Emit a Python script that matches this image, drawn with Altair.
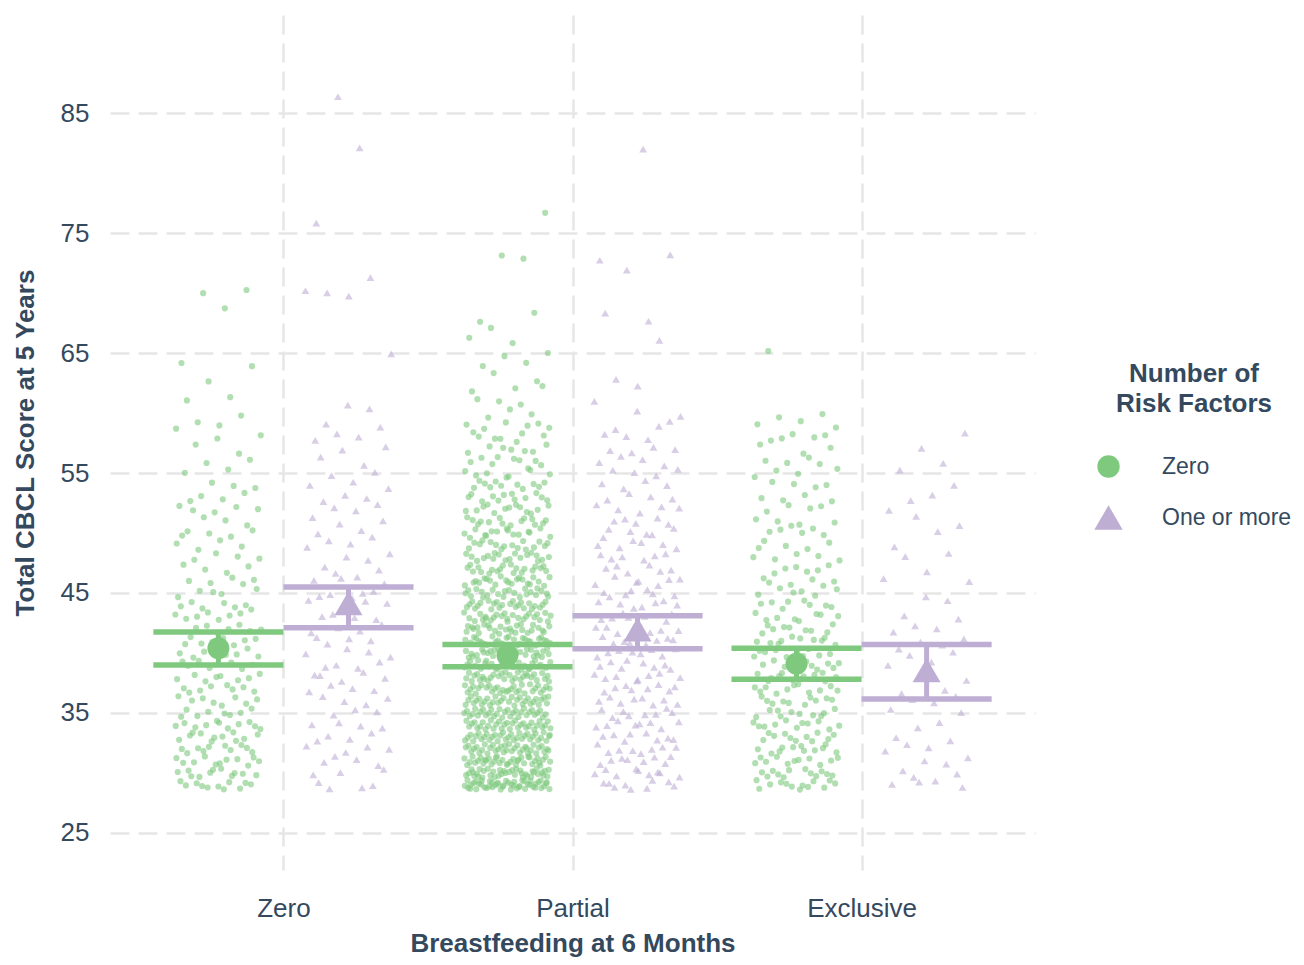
import json
import altair as alt
import pandas as pd

# ---------------- data ----------------
categories = ["Zero", "Partial", "Exclusive"]          # Breastfeeding at 6 Months
groups = ["Zero", "One or more"]                      # Number of Risk Factors
first_score = 29                                      # lowest observed total CBCL T-score

# counts of children at each integer score (starting at 29), per cell
counts_zero_zero = [11, 11, 11, 10, 11, 11, 8, 8, 8, 8, 7, 8, 8, 7, 7, 7,
                    5, 5, 4, 4, 4, 5, 3, 5, 4, 3, 2, 2, 2, 2, 3, 1, 2,
                    0, 1, 2, 0, 0, 0, 0, 1, 2]
counts_zero_one = [4, 3, 4, 4, 4, 4, 3, 4, 4, 5, 4, 4, 4, 4, 4, 4,
                   5, 4, 3, 3, 3, 3, 3, 3, 3, 3, 2, 2, 2, 3, 2, 1, 1,
                   0, 0, 0, 1, 0, 0, 0, 0, 3,
                   1, 0, 0, 0, 0, 1, 0, 0, 0, 0, 0, 1, 0, 0, 0, 1]
counts_partial_zero = [48, 38, 36, 34, 33, 32, 31, 31, 30, 30,
                       29, 29, 28, 26, 25, 24, 22, 21, 20, 18,
                       16, 15, 14, 13, 12, 11, 8, 8, 7, 7,
                       6, 3, 3, 3, 2, 2, 2, 2, 1, 2,
                       0, 0, 0, 0, 2, 0, 0, 0, 1]
counts_partial_one = [9, 9, 8, 8, 8, 8, 8, 8, 8, 8,
                      8, 8, 8, 8, 7, 7, 7, 7, 6, 6,
                      6, 6, 5, 5, 4, 4, 4, 4, 4, 3,
                      3, 2, 1, 1, 1, 0, 0, 1, 0, 2,
                      0, 0, 0, 1, 2, 0, 0, 0, 0, 0, 0, 0, 0, 1]
counts_excl_zero = [13, 12, 11, 11, 11, 11, 10, 10, 11, 12,
                    11, 10, 10, 9, 8, 8, 6, 6, 6, 5,
                    5, 5, 5, 4, 4, 4, 4, 4, 3, 5,
                    3, 2, 0, 0, 0, 0, 1]
counts_excl_one = [4, 3, 3, 3, 2, 2, 2, 3, 2, 2,
                   2, 3, 3, 3, 2, 1, 1, 2, 1, 2,
                   1, 1, 2, 1, 2, 1, 1, 1, 1, 1]

# estimated means and 95% CI per cell (category order as above)
mean_zero = [40.4, 39.8, 39.1]
lower_zero = [39.0, 38.85, 37.8]
upper_zero = [41.75, 40.7, 40.4]
mean_one = [44.15, 41.95, 38.55]
lower_one = [42.1, 40.35, 36.15]
upper_one = [45.5, 43.1, 40.7]

# ---------------- build tables ----------------
dodge = {"Zero": -0.225, "One or more": 0.225}
half_jitter = 0.15      # ggplot-style horizontal jitter half-width (category units)
height_jitter = 0.4     # ggplot default vertical jitter for integer scores


def van_der_corput(n, base):
    """Deterministic low-discrepancy value in [0, 1) (Halton component)."""
    q, denom = 0.0, 1.0
    while n:
        n, rem = divmod(n, base)
        denom *= base
        q += rem / denom
    return q


cells = {
    ("Zero", "Zero"): counts_zero_zero,
    ("Zero", "One or more"): counts_zero_one,
    ("Partial", "Zero"): counts_partial_zero,
    ("Partial", "One or more"): counts_partial_one,
    ("Exclusive", "Zero"): counts_excl_zero,
    ("Exclusive", "One or more"): counts_excl_one,
}

rows = []
for ci, ((cat, grp), counts) in enumerate(cells.items()):
    centre = categories.index(cat) + 1 + dodge[grp]
    i = 1 + 17 * ci
    for k, c in enumerate(counts):
        for _ in range(c):
            u = van_der_corput(i, 2)
            v = van_der_corput(i, 3)
            rows.append({"cat": cat, "group": grp,
                         "x": centre + (u - 0.5) * 2 * half_jitter,
                         "y": first_score + k + (v - 0.5) * 2 * height_jitter})
            i += 1
pts = pd.DataFrame(rows)

summ_rows = []
for j, cat in enumerate(categories):
    for grp, m, lo, hi in (("Zero", mean_zero[j], lower_zero[j], upper_zero[j]),
                           ("One or more", mean_one[j], lower_one[j], upper_one[j])):
        xc = j + 1 + dodge[grp]
        summ_rows.append({"cat": cat, "group": grp, "xc": xc,
                          "xl": xc - 0.225, "xr": xc + 0.225,
                          "mean": m, "lo": lo, "hi": hi})
summ = pd.DataFrame(summ_rows)
caps = pd.concat([summ.assign(yv=summ["lo"]), summ.assign(yv=summ["hi"])])

# ---------------- styling ----------------
TEXT = "#34495E"
GREEN = "#7FC97F"
PURPLE = "#BEAED4"
FONT = "Liberation Sans"
TRI = "M0,-1.09L1.27,1.09L-1.27,1.09Z"

color_scale = alt.Scale(domain=groups, range=[GREEN, PURPLE])
shape_scale = alt.Scale(domain=groups, range=["circle", TRI])
xs = alt.Scale(domain=[0.4, 3.6], nice=False, zero=False)
ys = alt.Scale(domain=[21.9, 93.2], nice=False, zero=False)

x_axis = alt.Axis(values=[1, 2, 3],
                  labelExpr=json.dumps(categories) + "[datum.value - 1]",
                  title="Breastfeeding at 6 Months",
                  labelPadding=25, titlePadding=9)
y_axis = alt.Axis(values=[25, 35, 45, 55, 65, 75, 85],
                  title="Total CBCL Score at 5 Years",
                  labelPadding=21, titlePadding=22)

legend = alt.Legend(title=["Number of", "Risk Factors"], orient="none",
                    legendX=987, legendY=346, padding=0,
                    titleFontSize=26, titleFontWeight="bold", titleColor=TEXT,
                    titleFont=FONT, titleAnchor="middle", titleAlign="center",
                    titleLineHeight=30, titlePadding=38,
                    labelFontSize=23, labelColor=TEXT, labelFont=FONT,
                    labelOffset=42, rowPadding=26,
                    symbolSize=500, symbolOpacity=1, symbolStrokeWidth=0)


def X(field):
    return alt.X(field, type="quantitative", scale=xs, axis=x_axis)


def Y(field):
    return alt.Y(field, type="quantitative", scale=ys, axis=y_axis)


points = alt.Chart(pts).mark_point(filled=True, size=38, opacity=0.6, strokeWidth=0).encode(
    x=X("x"), y=Y("y"),
    color=alt.Color("group:N", scale=color_scale, legend=legend),
    shape=alt.Shape("group:N", scale=shape_scale, legend=legend),
)

cap_lines = alt.Chart(caps).mark_rule(strokeWidth=5.5).encode(
    x=X("xl"), x2="xr", y=Y("yv"),
    color=alt.Color("group:N", scale=color_scale, legend=None),
)

stems = alt.Chart(summ).mark_rule(strokeWidth=5).encode(
    x=X("xc"), y=Y("lo"), y2="hi",
    color=alt.Color("group:N", scale=color_scale, legend=None),
)

means = alt.Chart(summ).mark_point(filled=True, size=484, opacity=1, strokeWidth=0).encode(
    x=X("xc"), y=Y("mean"),
    color=alt.Color("group:N", scale=color_scale, legend=None),
    shape=alt.Shape("group:N", scale=shape_scale, legend=None),
)

chart = alt.layer(points, cap_lines, stems, means).properties(
    width=925, height=855,
    autosize=alt.AutoSizeParams(type="none"),
    padding={"left": 102, "top": 7, "right": 261, "bottom": 87},
).configure_view(stroke=None).configure_axis(
    grid=True, gridColor="#E6E6E6", gridDash=[19, 9], gridWidth=2.5,
    domain=False, ticks=False,
    labelFont=FONT, labelFontSize=26, labelColor=TEXT,
    titleFont=FONT, titleFontSize=26, titleFontWeight="bold", titleColor=TEXT,
)

chart.save("out.html", embed_options={"renderer": "svg", "actions": False})
